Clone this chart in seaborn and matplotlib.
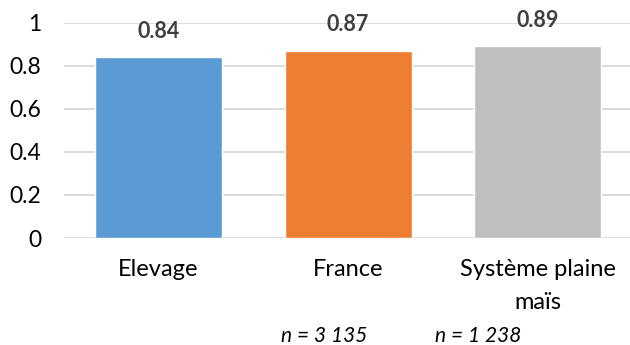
import matplotlib
matplotlib.use("Agg")
import matplotlib.pyplot as plt
import seaborn as sns
import pandas as pd

categories = ["Elevage", "France", "Système plaine\nmaïs"]
values = [0.84, 0.87, 0.89]
value_labels = ["0.84", "0.87", "0.89"]
n_labels = ["n = 3 135", "n = 1 238"]
colors = ["#5B9BD5", "#ED7D31", "#BFBFBF"]
yticks = [0, 0.2, 0.4, 0.6, 0.8, 1.0]
ytick_labels = ["0", "0.2", "0.4", "0.6", "0.8", "1"]

sns.set_theme(style="white")
plt.rcParams["font.family"] = ["Lato", "DejaVu Sans"]

df = pd.DataFrame({"cat": categories, "val": values})

fig = plt.figure(figsize=(6.3, 3.45), dpi=100)
ax = fig.add_axes([0.101, 0.310, 0.903, 0.624])

sns.barplot(data=df, x="cat", y="val", hue="cat", palette=colors,
            width=0.67, legend=False, ax=ax, saturation=1)

ax.set_ylim(0, 1)
ax.set_xlim(-0.5, 2.5)
ax.set_yticks(yticks)
ax.set_yticklabels(ytick_labels)
ax.yaxis.grid(True, color="#D9D9D9", linewidth=1.3)
ax.set_axisbelow(True)
for s in ax.spines.values():
    s.set_visible(False)
ax.set_xlabel("")
ax.set_ylabel("")
ax.tick_params(axis="y", length=0, pad=16, labelsize=16.5, labelcolor="#000000")
ax.tick_params(axis="x", length=0, pad=15, labelsize=17, labelcolor="#000000")
for lab in ax.get_xticklabels():
    lab.set_linespacing(1.7)

for cont, lbl in zip(ax.containers, value_labels):
    ax.bar_label(cont, labels=[lbl], padding=11, fontsize=15.5,
                 fontweight="bold", color="#404040")

fig.text(324 / 630, 1 - 336 / 345, n_labels[0], ha="center", va="center",
         fontsize=15, style="italic", color="#000000")
fig.text(478 / 630, 1 - 336 / 345, n_labels[1], ha="center", va="center",
         fontsize=15, style="italic", color="#000000")

fig.savefig("out.png", dpi=100)
